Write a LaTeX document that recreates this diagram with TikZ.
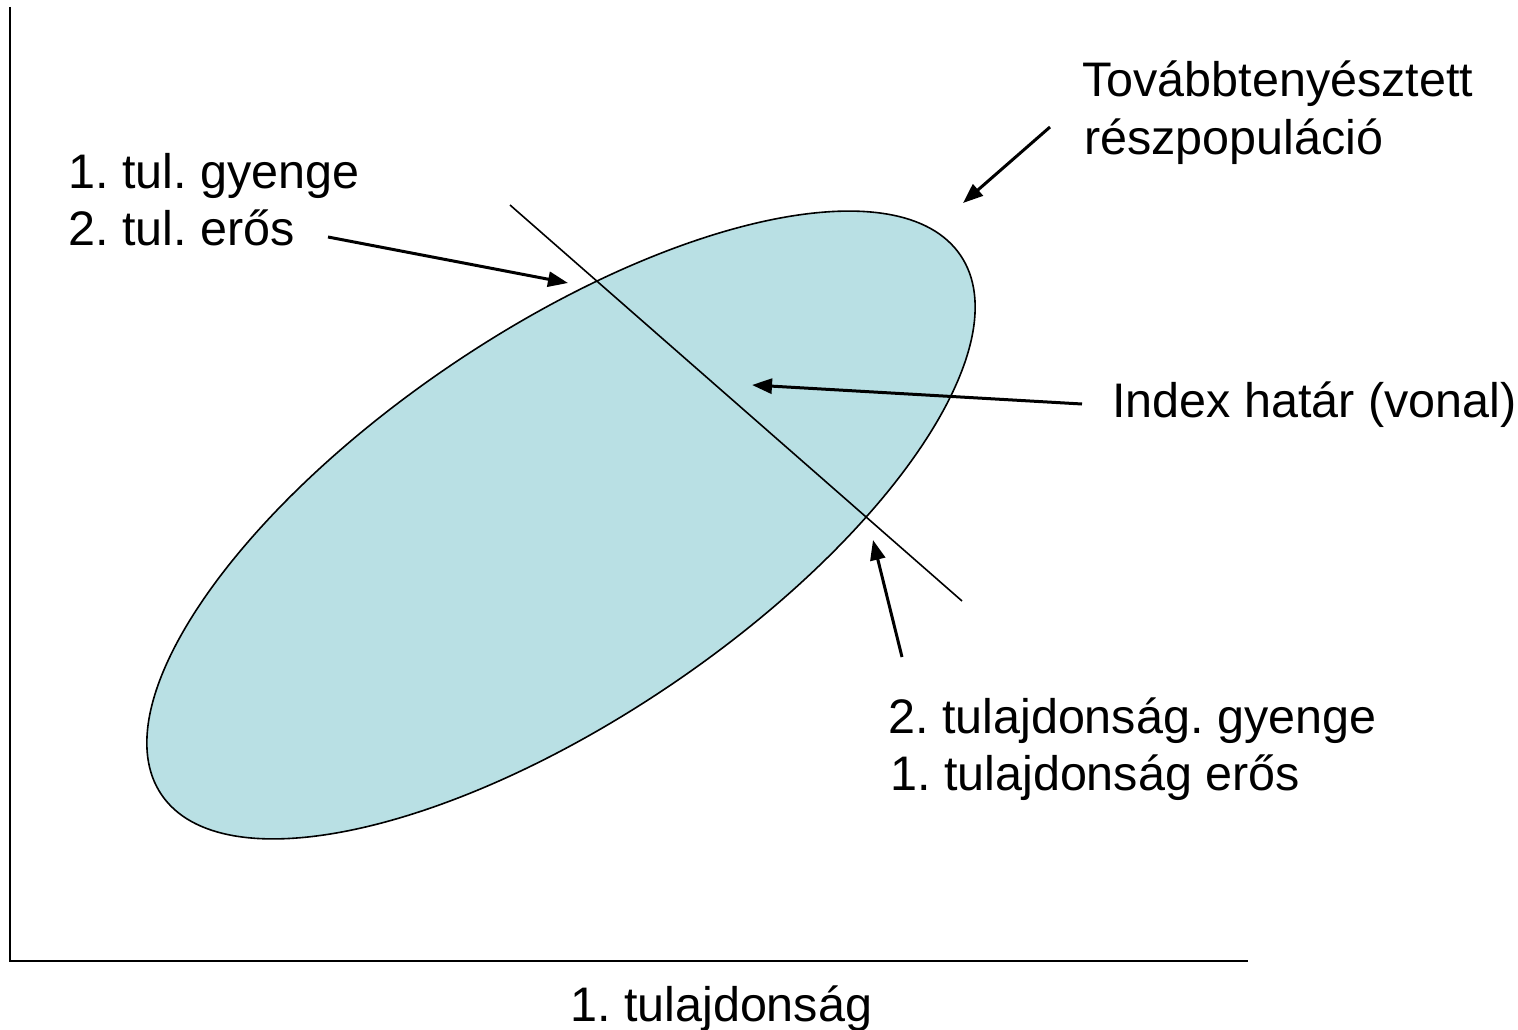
\documentclass[tikz,border=0pt]{standalone}
\usepackage{fontspec}
\setmainfont{Liberation Sans}
\usetikzlibrary{arrows.meta}
\definecolor{popfill}{RGB}{185,224,228}
\frenchspacing
\begin{document}
\begin{tikzpicture}[x=1pt,y=-1pt,
  lbl/.style={anchor=base west,inner sep=0pt,font=\fontsize{48.5pt}{57pt}\selectfont},
  axis/.style={line width=2.5pt,black},
  ptr/.style={line width=3pt,-{Triangle[length=20pt,width=15pt]}},
  thin line/.style={line width=1.6pt}]
\useasboundingbox (0,0) rectangle (1518,1030);
% axes
\coordinate (ytop) at (10,7);
\coordinate (orig) at (10,961);
\coordinate (xend) at (1248,961);
\draw[axis] (ytop) -- (orig) -- (xend);
% ellipse (sub-population)
\coordinate (c) at (561,525);
\filldraw[fill=popfill,draw=black,thin line,rotate around={34:(c)}]
  (c) ellipse [x radius=482pt,y radius=194pt];
% index line
\coordinate (ia) at (510,205);
\coordinate (ib) at (962,601);
\draw[thin line] (ia) -- (ib);
% texts
\node[lbl] (t1) at (68,188) {1. tul. gyenge};
\node[lbl] (t2) at (68,245) {2. tul. erős};
\node[lbl] (tv) at (1082,97) {Továbbtenyésztett};
\node[lbl] (rp) at (1084,154) {részpopuláció};
\node[lbl] (ix) at (1112,417) {Index határ (vonal)};
\node[lbl] (b1) at (888,733) {2. tulajdonság. gyenge};
\node[lbl] (b2) at (890,790) {1. tulajdonság erős};
\node[lbl] (xl) at (570,1021) {1. tulajdonság};
% arrows
\coordinate (a1s) at (328,237); \coordinate (a1e) at (568,283);
\coordinate (a2s) at (1082,404); \coordinate (a2e) at (752,385);
\coordinate (a3s) at (902,657); \coordinate (a3e) at (873,540);
\coordinate (a4s) at (1050,127); \coordinate (a4e) at (963,203);
\draw[ptr] (a1s) -- (a1e);
\draw[ptr] (a2s) -- (a2e);
\draw[ptr] (a3s) -- (a3e);
\draw[ptr] (a4s) -- (a4e);
\end{tikzpicture}
\end{document}
